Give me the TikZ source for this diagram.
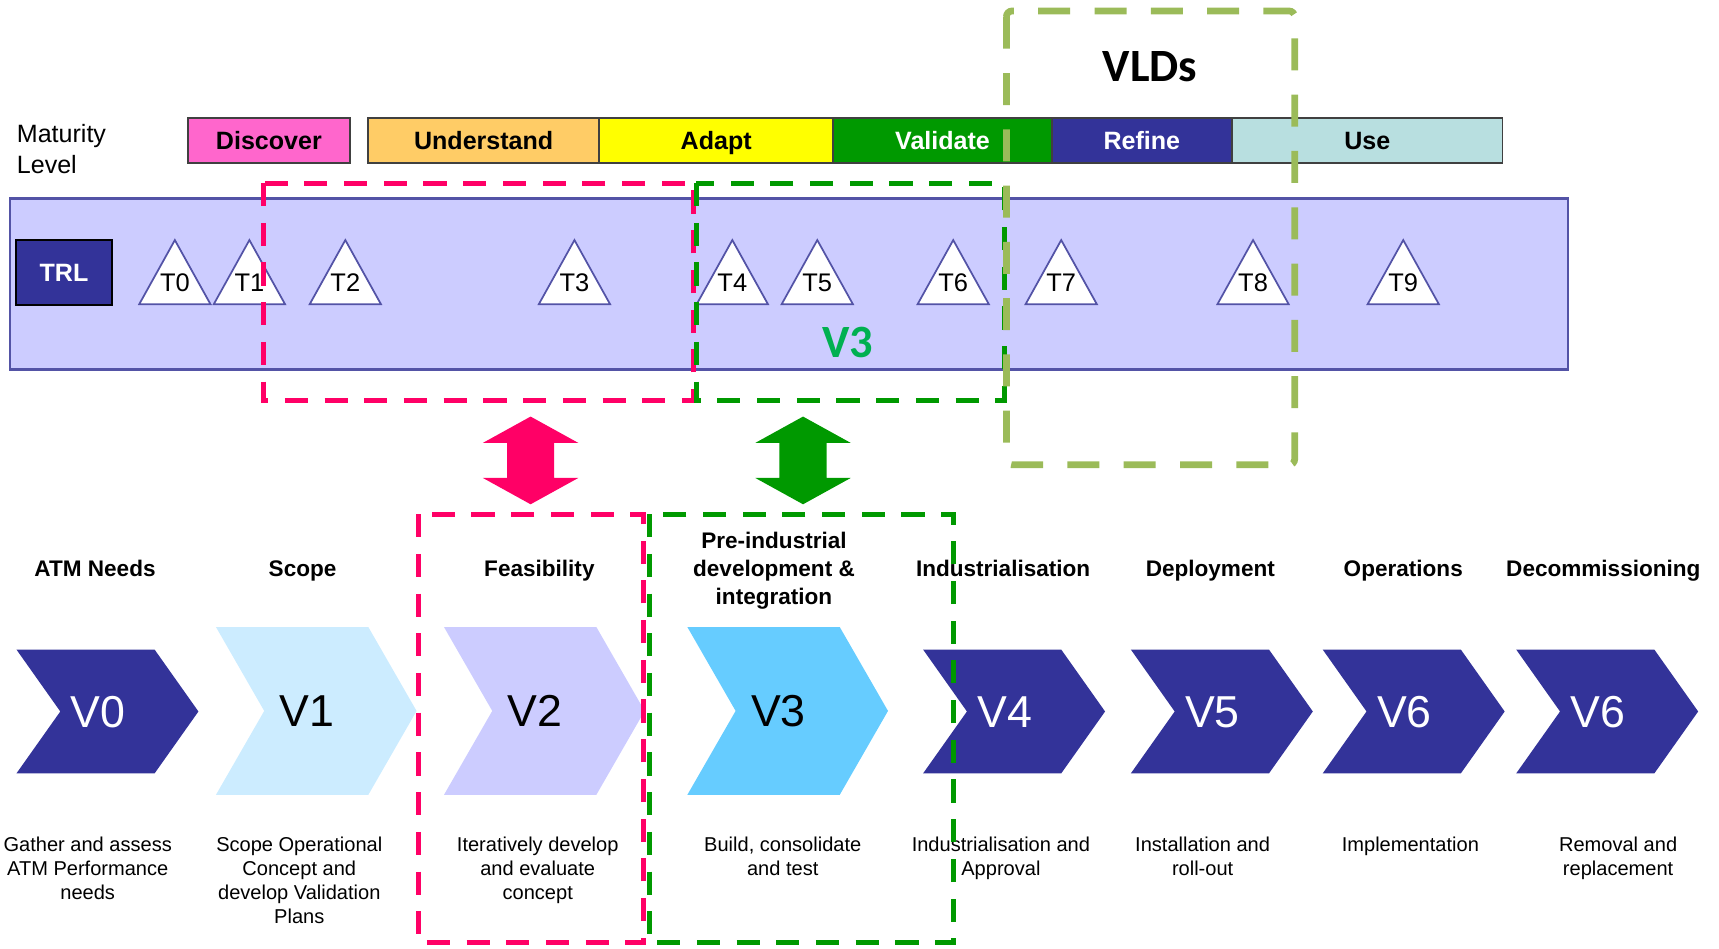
\documentclass[tikz,border=0pt]{standalone}
\usepackage{fontspec}
\setmainfont{Liberation Sans}
\newfontfamily\calibri{Carlito}
\usetikzlibrary{positioning}

\definecolor{discover}{HTML}{FF66CC}
\definecolor{understand}{HTML}{FFCC66}
\definecolor{adapt}{HTML}{FFFF00}
\definecolor{validate}{HTML}{009900}
\definecolor{refine}{HTML}{333399}
\definecolor{usecol}{HTML}{B8DFE0}
\definecolor{trlband}{HTML}{CCCCFF}
\definecolor{trlline}{HTML}{5353A6}
\definecolor{vpink}{HTML}{FF0066}
\definecolor{vgreen}{HTML}{009900}
\definecolor{vld}{HTML}{9BBB59}
\definecolor{vthree}{HTML}{00B050}
\definecolor{chdark}{HTML}{333399}
\definecolor{chone}{HTML}{CCECFF}
\definecolor{chtwo}{HTML}{CCCCFF}
\definecolor{chthree}{HTML}{66CCFF}

% chevron: left, top, width, height, point depth, colour
\newcommand{\chevron}[6]{\fill[#6] (#1,#2) -- ++({#3-#5},0) -- ++(#5,{#4/2})
  -- ++(-#5,{#4/2}) -- ++({-(#3-#5)},0) -- ++(#5,{-#4/2}) -- cycle;}
\newcommand{\smallchev}[2]{\chevron{#1}{592.5}{166}{113}{40}{#2}}
\newcommand{\bigchev}[2]{\chevron{#1}{572}{183}{153}{44}{#2}}
% TRL triangle with its label
\newcommand{\trlmark}[2]{\draw[tri] (#1-32.5,277.5) -- (#1,219) -- (#1+32.5,277.5) -- cycle;
  \node[tlbl] (#2) at (#1,258) {#2};}
% up/down block arrow
\newcommand{\updown}[2]{\fill[#2] (#1,380) -- (#1+43.5,404) -- (#1+21.5,404) -- (#1+21.5,436)
  -- (#1+43.5,436) -- (#1,460) -- (#1-43.5,436) -- (#1-21.5,436) -- (#1-21.5,404)
  -- (#1-43.5,404) -- cycle;}

\begin{document}
\begin{tikzpicture}[x=0.01cm,y=-0.01cm,
    lvl/.style={draw=black!75,line width=0.5pt,minimum height=0.41cm,inner sep=0pt,outer sep=0pt,
                font=\bfseries\fontsize{6.5}{7.8}\selectfont,text height=4.65pt,text depth=0pt},
    tri/.style={draw=trlline,fill=white,line width=0.45pt},
    tlbl/.style={font=\fontsize{6.6}{8}\selectfont,inner sep=0pt,text height=4.7pt,text depth=0pt},
    hdr/.style={font=\bfseries\fontsize{5.85}{7.2}\selectfont,align=center,inner sep=0pt,anchor=north},
    desc/.style={font=\fontsize{5.2}{6.26}\selectfont,align=center,inner sep=0pt,anchor=north},
    vlbl/.style={font=\fontsize{11.6}{14}\selectfont,inner sep=0pt,text height=8.3pt,text depth=0pt},
    big/.style={font=\calibri\bfseries\fontsize{12}{14}\selectfont,inner sep=0pt,text height=7.7pt,text depth=0pt},
    pinkbox/.style={draw=vpink,line width=1.3pt,dash pattern=on 6pt off 4.3pt},
    greenbox/.style={draw=vgreen,line width=1.3pt,dash pattern=on 6pt off 4.3pt},
    vldbox/.style={draw=vld,line width=1.75pt,dash pattern=on 8.3pt off 6.3pt,rounded corners=1.5pt}]
  \useasboundingbox (0,0) rectangle (1568,865);

  % maturity levels
  \node[anchor=north west,align=left,inner sep=0pt,font=\fontsize{6.5}{8.2}\selectfont] (maturity)
       at (14.7,112.5) {Maturity\\Level};
  \node[lvl,fill=discover,minimum width=1.473cm] (discover) at (245.3,128.5) {Discover};
  \node[lvl,fill=understand,minimum width=2.104cm] (understand) at (441.2,128.5) {Understand};
  \node[lvl,fill=adapt,minimum width=2.136cm,right=0pt of understand] (adapt) {Adapt};
  \node[lvl,fill=validate,text=white,minimum width=1.99cm,right=0pt of adapt] (validate) {Validate};
  \node[lvl,fill=refine,text=white,minimum width=1.644cm,right=0pt of validate] (refine) {Refine};
  \node[lvl,fill=usecol,minimum width=2.466cm,right=0pt of refine] (use) {Use};

  % TRL band
  \node[draw=trlline,fill=trlband,line width=0.6pt,minimum width=14.206cm,minimum height=1.56cm,
        inner sep=0pt] (band) at (719.7,259) {};
  \node[draw=black,fill=refine,text=white,line width=0.5pt,minimum width=0.873cm,minimum height=0.59cm,
        inner sep=0pt,font=\bfseries\fontsize{6.5}{7.8}\selectfont,text height=4.65pt,text depth=0pt]
       (trl) at (58.4,248.5) {TRL};
  \trlmark{159.5}{T0}
  \trlmark{227.5}{T1}
  \trlmark{315}{T2}
  \trlmark{524}{T3}
  \trlmark{668}{T4}
  \trlmark{745.5}{T5}
  \trlmark{869.5}{T6}
  \trlmark{968}{T7}
  \trlmark{1143}{T8}
  \trlmark{1280}{T9}
  \node[big,text=vthree] (v3tag) at (773,313) {V3};

  \draw[pinkbox] (240.5,167) rectangle (633,365);
  \draw[greenbox] (635,167) rectangle (916,365);
  \draw[vldbox] (918,10) rectangle (1181,424);
  \node[big] (vlds) at (1049,60.5) {VLDs};

  \updown{484}{vpink}
  \updown{732.5}{vgreen}

  % phases
  \node[hdr] (h0) at (86.7,510.5) {ATM Needs};
  \node[hdr] (h1) at (276,510.5) {Scope};
  \node[hdr] (h2) at (492,510.5) {Feasibility};
  \node[hdr] (h3) at (706,485) {Pre-industrial\\development \&\\integration};
  \node[hdr] (h4) at (915,510.5) {Industrialisation};
  \node[hdr] (h5) at (1104,510.5) {Deployment};
  \node[hdr] (h6) at (1280,510.5) {Operations};
  \node[hdr] (h7) at (1462.5,510.5) {Decommissioning};

  \smallchev{15}{chdark}
  \bigchev{197}{chone}
  \bigchev{405}{chtwo}
  \bigchev{627}{chthree}
  \smallchev{842}{chdark}
  \smallchev{1031.5}{chdark}
  \smallchev{1206.5}{chdark}
  \smallchev{1383}{chdark}
  \node[vlbl,text=white] (v0) at (89.5,649) {V0};
  \node[vlbl] (v1) at (280,648.5) {V1};
  \node[vlbl] (v2) at (488,648.5) {V2};
  \node[vlbl] (v3) at (710,648.5) {V3};
  \node[vlbl,text=white] (v4) at (916.5,649) {V4};
  \node[vlbl,text=white] (v5) at (1106,649) {V5};
  \node[vlbl,text=white] (v6) at (1281,649) {V6};
  \node[vlbl,text=white] (v7) at (1457.5,649) {V6};

  \node[desc] (d0) at (80,762.6) {Gather and assess\\ATM Performance\\needs};
  \node[desc] (d1) at (273,762.6) {Scope Operational\\Concept and\\develop Validation\\Plans};
  \node[desc] (d2) at (490.5,762.6) {Iteratively develop\\and evaluate\\concept};
  \node[desc] (d3) at (714,762.6) {Build, consolidate\\and test};
  \node[desc] (d4) at (913,762.6) {Industrialisation and\\Approval};
  \node[desc] (d5) at (1097,762.6) {Installation and\\roll-out};
  \node[desc] (d6) at (1286.5,762.6) {Implementation};
  \node[desc] (d7) at (1476,762.6) {Removal and\\replacement};

  \draw[pinkbox] (382,469) rectangle (587,860);
  \draw[greenbox] (592,469) rectangle (870,860);
\end{tikzpicture}
\end{document}
